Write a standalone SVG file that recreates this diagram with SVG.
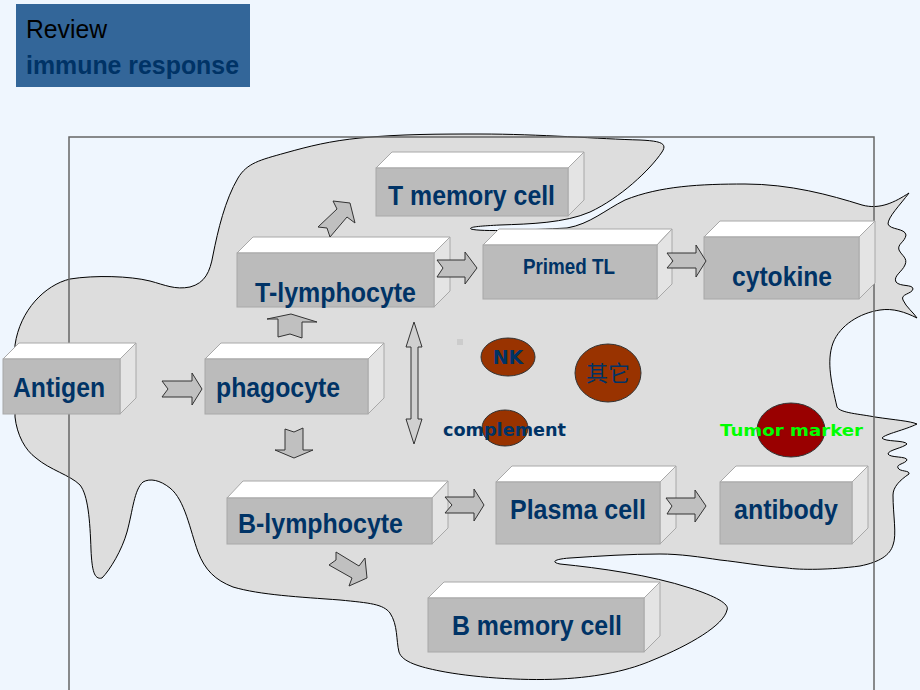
<svg xmlns="http://www.w3.org/2000/svg" width="920" height="690" viewBox="0 0 920 690">
<defs>
<style>
.top{fill:#FFFFFF;stroke:#A8A8A8;stroke-width:1}
.front{fill:#BBBBBB;stroke:#A8A8A8;stroke-width:1}
.side{fill:#E4E4E4;stroke:#A8A8A8;stroke-width:1}
.lbl{font-family:"Liberation Sans",Arial,sans-serif;font-weight:bold;font-size:28px;fill:#003366}
.arr{fill:#C0C0C0;stroke:#333333;stroke-width:1;stroke-linejoin:miter}
.cell{stroke:#333333;stroke-width:1}
.vd{font-family:"DejaVu Sans",Verdana,sans-serif;font-weight:bold}
</style>
</defs>
<rect x="0" y="0" width="920" height="690" fill="#EFF6FE"/>
<path id="blob" fill="#DDDDDD" stroke="#000000" stroke-width="1" d="M 15,345 C 20,310 45,285 70,279 C 95,275 130,276 150,281 C 165,285 175,290 190,287 C 205,283 210,272 213,255 C 218,230 225,200 238,178 C 247,163 260,160 285,153 C 310,146 330,141 360,138 C 400,134 440,134 480,134 C 540,134 600,139 640,140 C 660,141 668,143 662,152 C 650,170 620,198 590,212 C 565,223 530,224 500,225 C 480,226 468,227 471,229 C 480,232 530,230 567,228 C 590,224 605,210 625,200 C 660,186 700,184 745,184 C 790,184 830,195 862,205 C 880,210 895,202 909,193 C 900,205 888,217 888,224 C 890,230 905,228 906,235 C 905,242 897,244 899,250 C 902,256 908,258 905,265 C 902,272 893,276 896,282 C 900,287 913,284 913,289 C 912,294 900,294 903,300 C 906,307 914,313 917,318 C 905,312 893,308 880,310 C 860,313 840,325 833,343 C 826,362 832,385 837,407 C 840,413 860,414 875,417 C 895,420 910,421 917,424 C 905,430 885,434 882,438 C 885,442 905,440 907,444 C 903,448 888,450 888,454 C 890,458 907,456 907,460 C 905,464 896,464 898,468 C 900,472 910,470 909,474 C 900,480 893,487 893,495 C 893,515 897,535 893,545 C 890,555 880,562 860,566 C 830,570 800,570 787,568 C 760,566 740,562 720,560 C 700,557 680,554 660,554 C 630,554 600,556 570,558 C 555,559 550,562 560,564 C 600,568 650,575 690,588 C 715,596 730,604 727,610 C 724,625 690,645 653,660 C 630,670 600,677 560,679 C 520,681 470,677 440,671 C 420,667 402,662 399,652 C 396,640 398,625 390,613 C 383,604 370,603 340,600 C 300,597 260,595 233,587 C 215,580 205,570 198,552 C 190,530 185,500 170,488 C 160,480 150,478 143,482 C 134,490 133,510 127,532 C 122,550 110,570 102,578 C 94,580 92,570 91,550 C 90,520 88,495 80,485 C 70,475 50,470 36,458 C 25,450 17,435 15,417 Z"/>
<rect id="frame" x="69" y="137" width="805" height="560" fill="none" stroke="#666666" stroke-width="1.5"/>
<g id="title">
<rect x="16" y="4" width="234" height="83" fill="#336699"/>
<text x="26" y="38" font-family="Liberation Sans,Arial,sans-serif" font-size="26" fill="#000000" textLength="81" lengthAdjust="spacingAndGlyphs">Review</text>
<text x="26" y="74" font-family="Liberation Sans,Arial,sans-serif" font-weight="bold" font-size="26" fill="#003366" textLength="213" lengthAdjust="spacingAndGlyphs">immune response</text>
</g>
<g id="node-antigen">
<polygon class="top" points="3,359 19,343 136,343 120,359"/>
<polygon class="side" points="120,359 136,343 136,398 120,414"/>
<rect class="front" x="3" y="359" width="117" height="55"/>
<text class="lbl" x="13" y="397" textLength="92" lengthAdjust="spacingAndGlyphs">Antigen</text>
</g>
<g id="node-phagocyte">
<polygon class="top" points="205,359 221,343 384,343 368,359"/>
<polygon class="side" points="368,359 384,343 384,398 368,414"/>
<rect class="front" x="205" y="359" width="163" height="55"/>
<text class="lbl" x="216" y="397" textLength="124" lengthAdjust="spacingAndGlyphs">phagocyte</text>
</g>
<g id="node-tlymphocyte">
<polygon class="top" points="237,253 253,237 450,237 434,253"/>
<polygon class="side" points="434,253 450,237 450,291 434,307"/>
<rect class="front" x="237" y="253" width="197" height="54"/>
<text class="lbl" x="255" y="302" textLength="161" lengthAdjust="spacingAndGlyphs">T-lymphocyte</text>
</g>
<g id="node-tmemory">
<polygon class="top" points="376,168 392,152 584,152 568,168"/>
<polygon class="side" points="568,168 584,152 584,200 568,216"/>
<rect class="front" x="376" y="168" width="192" height="48"/>
<text class="lbl" x="388" y="205" textLength="167" lengthAdjust="spacingAndGlyphs">T memory cell</text>
</g>
<g id="node-primedtl">
<polygon class="top" points="483,245 499,229 672,229 657,245"/>
<polygon class="side" points="657,245 672,229 672,284 657,299"/>
<rect class="front" x="483" y="245" width="174" height="54"/>
<text class="lbl" x="523" y="274" font-size="22" style="font-size:22px" textLength="92" lengthAdjust="spacingAndGlyphs">Primed TL</text>
</g>
<g id="node-cytokine">
<polygon class="top" points="704,237 720,221 875,221 859,237"/>
<polygon class="side" points="859,237 875,221 875,283 859,299"/>
<rect class="front" x="704" y="237" width="155" height="62"/>
<text class="lbl" x="732" y="286" textLength="100" lengthAdjust="spacingAndGlyphs">cytokine</text>
</g>
<g id="node-blymphocyte">
<polygon class="top" points="227,498 243,481 448,481 432,498"/>
<polygon class="side" points="432,498 448,481 448,528 432,544"/>
<rect class="front" x="227" y="498" width="205" height="46"/>
<text class="lbl" x="238" y="533" textLength="165" lengthAdjust="spacingAndGlyphs">B-lymphocyte</text>
</g>
<g id="node-plasma">
<polygon class="top" points="496,482 512,466 676,466 660,482"/>
<polygon class="side" points="660,482 676,466 676,528 660,544"/>
<rect class="front" x="496" y="482" width="164" height="62"/>
<text class="lbl" x="510" y="519" textLength="136" lengthAdjust="spacingAndGlyphs">Plasma cell</text>
</g>
<g id="node-antibody">
<polygon class="top" points="720,482 736,466 868,466 852,482"/>
<polygon class="side" points="852,482 868,466 868,528 852,544"/>
<rect class="front" x="720" y="482" width="132" height="62"/>
<text class="lbl" x="734" y="519" textLength="104" lengthAdjust="spacingAndGlyphs">antibody</text>
</g>
<g id="node-bmemory">
<polygon class="top" points="428,598 444,582 660,582 644,598"/>
<polygon class="side" points="644,598 660,582 660,636 644,652"/>
<rect class="front" x="428" y="598" width="216" height="54"/>
<text class="lbl" x="452" y="635" textLength="170" lengthAdjust="spacingAndGlyphs">B memory cell</text>
</g>
<g id="connectors">
<polygon class="arr" points="162,381 192,381 192,373 202,389 192,405 192,397 162,397 168,389"/>
<polygon class="arr" points="437,260 465,260 465,252 477,268 465,284 465,277 437,277 443,268"/>
<polygon class="arr" points="667,253 696,253 696,245 706,261 696,277 696,268 667,268 673,261"/>
<polygon class="arr" points="445,497 474,497 474,489 484,505 474,521 474,513 445,513 452,505"/>
<polygon class="arr" points="666,498 695,498 695,490 706,506 695,522 695,514 667,514 672,506"/>
<polygon class="arr" points="278,337 290,334 302,338 302,322 317,322 291,314 267,319 278,319"/>
<polygon class="arr" points="285,429 294,432 303,428 303,450 313,450 294,458 275,450 285,450"/>
<polygon class="arr" points="318,227 337,209 333,201 350,203 355,223 347,217 330,237 327,228"/>
<polygon class="arr" points="336,552 359,566 365,558 367,578 349,586 352,578 329,565 336,560"/>
<polygon class="arr" fill="#D0D0D0" style="fill:#D0D0D0" points="414,322 422,347 418,347 418,419 422,419 414,444 406,419 411,419 411,347 406,347"/>
</g>
<rect x="457" y="339" width="6" height="6" fill="#CCCCCC"/>
<g id="node-nk">
<ellipse class="cell" cx="508" cy="357" rx="27" ry="19" fill="#993300"/>
<text class="vd" x="508" y="364" font-size="19" text-anchor="middle" fill="#003366">NK</text>
</g>
<g id="node-other">
<ellipse class="cell" cx="608" cy="373" rx="33" ry="29" fill="#993300"/>
<text x="608" y="381" font-family="Noto Sans CJK SC,sans-serif" font-size="22" text-anchor="middle" fill="#003366">其它</text>
</g>
<g id="node-complement">
<ellipse class="cell" cx="505" cy="428" rx="23" ry="18" fill="#993300"/>
<text class="vd" x="443" y="436" font-size="17.5" fill="#003366" textLength="123" lengthAdjust="spacingAndGlyphs">complement</text>
</g>
<g id="node-tumor">
<ellipse class="cell" cx="791" cy="430" rx="34" ry="27" fill="#990000"/>
<text class="vd" x="720" y="436" font-size="16.5" fill="#00FF00" textLength="143" lengthAdjust="spacingAndGlyphs">Tumor marker</text>
</g>
</svg>
